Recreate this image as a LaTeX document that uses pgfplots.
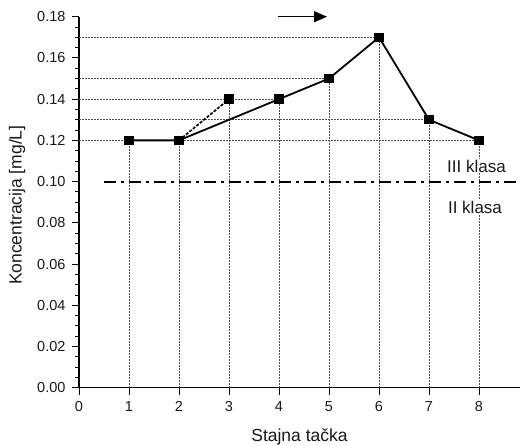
\documentclass[border=0pt]{standalone}
\usepackage{fontspec}
\setmainfont{Liberation Sans}
\usepackage{pgfplots}
\pgfplotsset{compat=1.18}
\usetikzlibrary{arrows.meta}

\begin{document}
\begin{tikzpicture}
\begin{axis}[
  scale only axis,
  width=441pt, height=371pt,
  xmin=0, xmax=8.82, ymin=0, ymax=0.18,
  axis x line*=bottom, axis y line*=left,
  axis line style={line width=1.1pt},
  xtick={0,1,...,8},
  ytick={0,0.02,...,0.18},
  minor y tick num=3,
  tick align=outside,
  major tick length=7pt, minor tick length=4pt,
  tick style={black, line width=0.9pt},
  yticklabel style={/pgf/number format/fixed, /pgf/number format/fixed zerofill, /pgf/number format/precision=2, xshift=-3pt},
  /pgf/number format/assume math mode=true,
  ticklabel style={font=\fontsize{14.5}{16}\selectfont, text=black!90},
  xticklabel style={yshift=-3pt},
  xlabel={Stajna tačka}, ylabel={Koncentracija [mg/L]},
  label style={font=\fontsize{17.5}{20}\selectfont, text=black!90},
  xlabel style={at={(axis description cs:0.5,0)}, anchor=center, yshift=-49pt},
  ylabel style={at={(axis description cs:0,0.5)}, anchor=center, yshift=62pt, xshift=-3pt},
  clip=false,
]
% drop lines
\addplot[xcomb, black!70, line width=0.6pt, dash pattern=on 2pt off 1pt] coordinates {
  (8,0.12) (7,0.13) (4,0.14) (5,0.15) (6,0.17)
};
\addplot[ycomb, black!70, line width=0.6pt, dash pattern=on 2pt off 1pt] coordinates {
  (1,0.12) (2,0.12) (3,0.14) (4,0.14) (5,0.15) (6,0.17) (7,0.13) (8,0.12)
};
% class limit
\addplot[black, line width=2.1pt, dash pattern=on 12pt off 5pt on 3pt off 5pt] coordinates {(0.5,0.10) (8.82,0.10)};
% series
\addplot[black, line width=1.7pt, dash pattern=on 3pt off 1.5pt, mark=square*, mark size=3.8pt, mark options={solid}] coordinates {
  (2,0.12) (3,0.14)
};
\addplot[black, line width=1.8pt, mark=square*, mark size=3.8pt] coordinates {
  (1,0.12) (2,0.12) (4,0.14) (5,0.15) (6,0.17) (7,0.13) (8,0.12)
};
\node[fill=white, inner sep=1pt, font=\fontsize{17}{20}\selectfont, text=black!90] at (axis cs:7.95,0.1075) {III klasa};
\node[fill=white, inner sep=1pt, font=\fontsize{17}{20}\selectfont, text=black!90] at (axis cs:7.92,0.0876) {II klasa};
\draw[black, line width=1.1pt, -{Triangle[length=13pt, width=11pt]}] (axis cs:3.97,0.18) -- (axis cs:4.96,0.18);
\end{axis}
\pgfresetboundingbox
\path[use as bounding box] ([xshift=-79pt,yshift=-57.3pt]current axis.south west) rectangle ([yshift=16.7pt]current axis.north east);
\end{tikzpicture}
\end{document}
